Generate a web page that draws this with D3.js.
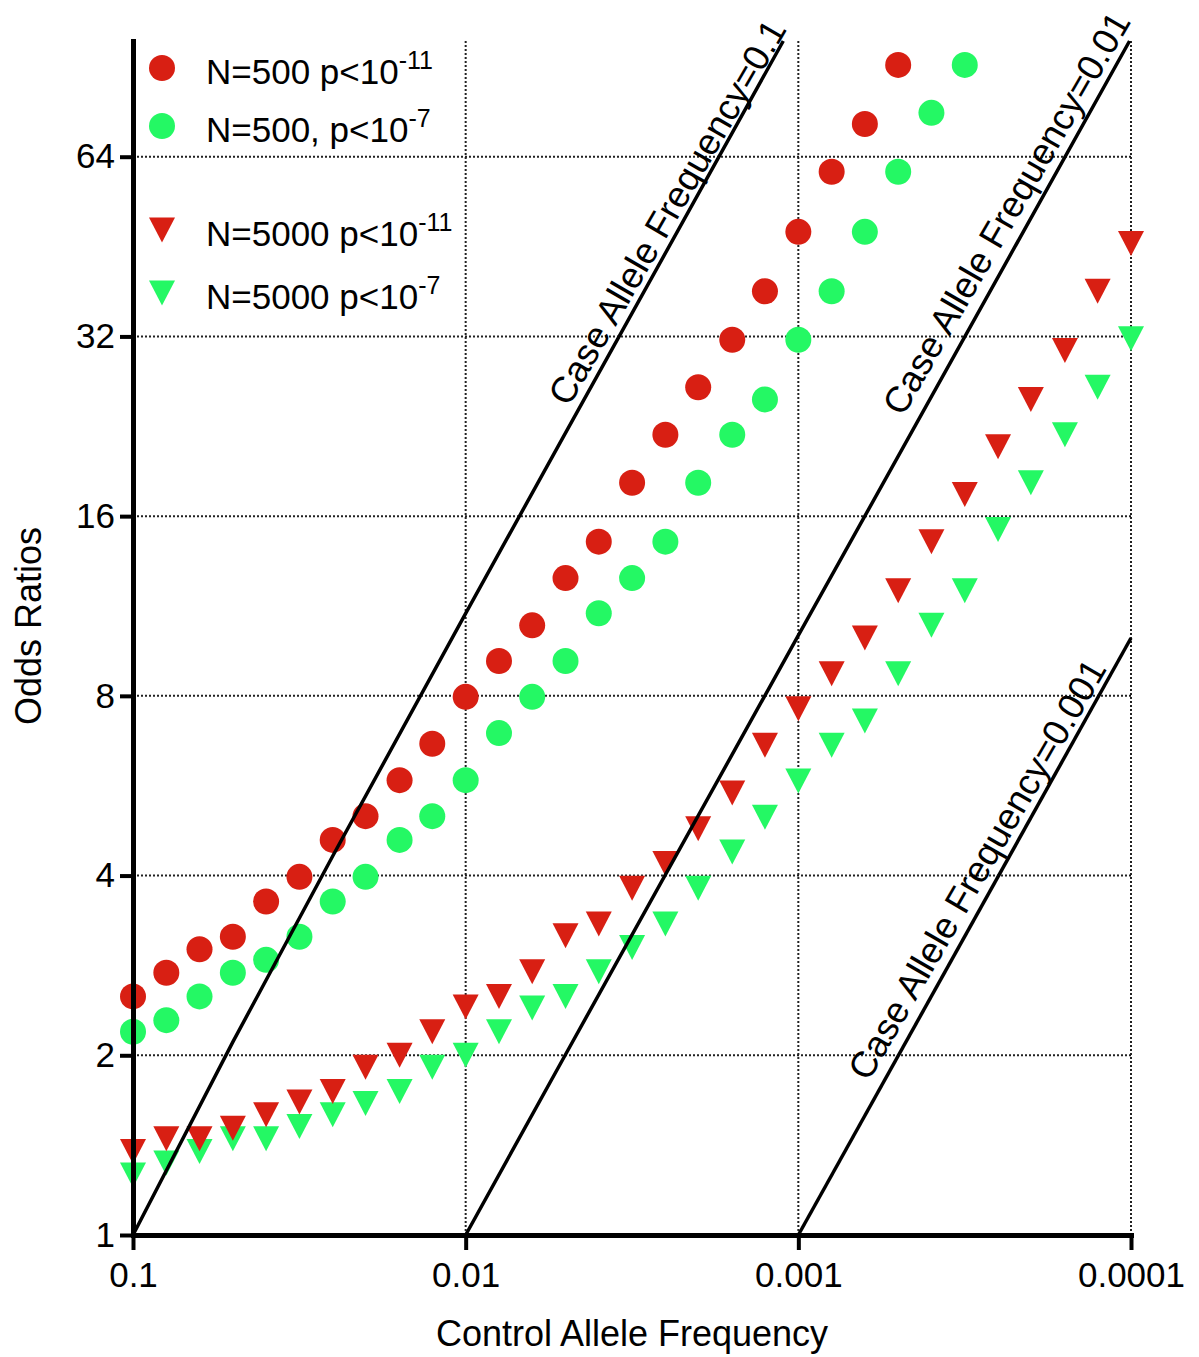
<!DOCTYPE html>
<html>
<head>
<meta charset="utf-8">
<script src="https://cdn.jsdelivr.net/npm/d3@7"></script>
<style>
  body { margin: 0; background: #fff; }
  svg text { font-family: "Liberation Sans", Arial, Helvetica, sans-serif; fill: #000; }
</style>
</head>
<body>
<div class="chart"></div>
<script>
// control allele frequencies, 0.1 down to 0.0001 in tenth-decade steps
const ctrlFreq = [0.1, 0.0794, 0.0631, 0.0501, 0.0398, 0.0316, 0.0251, 0.0200, 0.0158, 0.0126,
  0.01, 0.00794, 0.00631, 0.00501, 0.00398, 0.00316, 0.00251, 0.00200, 0.00158, 0.00126,
  0.001, 0.000794, 0.000631, 0.000501, 0.000398, 0.000316, 0.000251, 0.000200, 0.000158, 0.000126,
  0.0001];

// odds ratios, one per control frequency (circles stop early)
const orN500p11 = [2.51, 2.75, 3.01, 3.16, 3.62, 3.98, 4.59, 5.03, 5.78, 6.65,
  7.97, 9.15, 10.5, 12.6, 14.5, 18.2, 21.9, 26.3, 31.6, 38.1,
  47.9, 60.4, 72.6, 91.2];
const orN500p7 = [2.19, 2.29, 2.51, 2.75, 2.89, 3.16, 3.62, 3.98, 4.59, 5.03,
  5.78, 6.93, 7.97, 9.15, 11.0, 12.6, 14.5, 18.2, 21.9, 25.1,
  31.6, 38.1, 47.9, 60.4, 75.8, 91.2];
const orN5000p11 = [1.38, 1.45, 1.45, 1.51, 1.59, 1.67, 1.74, 1.91, 2.00, 2.19,
  2.41, 2.51, 2.76, 3.17, 3.32, 3.81, 4.19, 4.79, 5.50, 6.61,
  7.61, 8.71, 10.0, 12.0, 14.5, 17.4, 20.9, 25.1, 30.3, 38.1,
  45.8];
const orN5000p7 = [1.26, 1.32, 1.38, 1.45, 1.45, 1.52, 1.59, 1.66, 1.74, 1.91,
  2.00, 2.19, 2.40, 2.51, 2.76, 3.03, 3.32, 3.81, 4.38, 5.01,
  5.76, 6.61, 7.26, 8.71, 10.5, 12.0, 15.2, 18.2, 21.9, 26.3,
  31.7];

const seriesNames = ["N=500 p<10", "N=500, p<10", "N=5000 p<10", "N=5000 p<10"];
const seriesExp = ["-11", "-7", "-11", "-7"];

const yTicks = [1, 2, 4, 8, 16, 32, 64];
const xTicks = [0.1, 0.01, 0.001, 0.0001];
const xTickLabels = ["0.1", "0.01", "0.001", "0.0001"];

// case allele frequency reference curves
const caseFreqs = ["0.1", "0.01", "0.001"];
const caseLineCtrl = [[0.1, 0.05, 0.025, 0.01, 0.005, 0.00111], [0.01, 0.005, 0.001, 0.000101], [0.001, 0.0001]];
const caseLineOR = [[1, 2.11, 4.33, 11.0, 22.1, 100], [1, 2.01, 10.1, 100], [1, 10.0]];
const caseLabelCtrl = [0.00490, 0.000485, 0.000615];
const caseLabelOR = [24.3, 23.4, 1.80];

const red = "#d81f13";
const green = "#24f864";

const width = 1199, height = 1357;
const margin = { top: 41, right: 68, bottom: 122, left: 133 };

const svg = d3.select("div.chart").append("svg")
    .attr("width", width)
    .attr("height", height);

const x = d3.scaleLog().domain([0.1, 0.0001]).range([margin.left, width - margin.right]);
const y = d3.scaleLog().base(2).domain([1, 100]).range([height - margin.bottom, margin.top]);

// dotted grid
const grid = svg.append("g")
    .attr("stroke", "#222")
    .attr("stroke-width", 2)
    .attr("stroke-dasharray", "2,2");

grid.selectAll("line.hgrid")
    .data(yTicks.slice(1))
    .join("line")
    .attr("class", "hgrid")
    .attr("x1", x(0.1))
    .attr("x2", x(0.0001))
    .attr("y1", d => y(d))
    .attr("y2", d => y(d));

grid.selectAll("line.vgrid")
    .data(xTicks.slice(1))
    .join("line")
    .attr("class", "vgrid")
    .attr("x1", d => x(d))
    .attr("x2", d => x(d))
    .attr("y1", y(100))
    .attr("y2", y(1));

// markers
const triangle = "M-13,-12.5L13,-12.5L0,12.5Z";

function drawCircles(values, color) {
  svg.append("g").selectAll("circle")
    .data(values)
    .join("circle")
    .attr("cx", (d, i) => x(ctrlFreq[i]))
    .attr("cy", d => y(d))
    .attr("r", 13)
    .attr("fill", color);
}

function drawTriangles(values, color) {
  svg.append("g").selectAll("path")
    .data(values)
    .join("path")
    .attr("d", triangle)
    .attr("transform", (d, i) => `translate(${x(ctrlFreq[i])},${y(d)})`)
    .attr("fill", color);
}

drawCircles(orN500p7, green);
drawCircles(orN500p11, red);
drawTriangles(orN5000p7, green);
drawTriangles(orN5000p11, red);

// case allele frequency lines and their labels
const line = d3.line()
    .x(d => x(d[0]))
    .y(d => y(d[1]));

caseFreqs.forEach((f, i) => {
  let pts = caseLineCtrl[i].map((c, j) => [c, caseLineOR[i][j]]);
  svg.append("path")
    .attr("d", line(pts))
    .attr("fill", "none")
    .attr("stroke", "#000")
    .attr("stroke-width", 3.5);

  svg.append("text")
    .attr("transform", `translate(${x(caseLabelCtrl[i])},${y(caseLabelOR[i])}) rotate(-60)`)
    .attr("font-size", 36.5)
    .text(`Case Allele Frequency=${f}`);
});

// axes
const xAxis = d3.axisBottom(x)
    .tickValues(xTicks)
    .tickFormat((d, i) => xTickLabels[i])
    .tickSize(15)
    .tickPadding(12)
    .tickSizeOuter(0);

const yAxis = d3.axisLeft(y)
    .tickValues(yTicks)
    .tickFormat(d => d)
    .tickSize(13)
    .tickPadding(5)
    .tickSizeOuter(0);

function styleAxis(g) {
  g.select(".domain").attr("stroke", "#000").attr("stroke-width", 5).attr("stroke-linecap", "square");
  g.selectAll(".tick line").attr("stroke", "#000").attr("stroke-width", 4);
  g.selectAll(".tick text").attr("font-size", 35).attr("fill", "#000");
  g.attr("font-family", null);
}

svg.append("g")
    .attr("transform", `translate(0,${y(1)})`)
    .call(xAxis)
    .call(styleAxis);

svg.append("g")
    .attr("transform", `translate(${x(0.1)},0)`)
    .call(yAxis)
    .call(styleAxis);

// axis titles
svg.append("text")
    .attr("x", (x(0.1) + x(0.0001)) / 2)
    .attr("y", 1346)
    .attr("text-anchor", "middle")
    .attr("font-size", 36)
    .text("Control Allele Frequency");

svg.append("text")
    .attr("transform", "translate(41,626) rotate(-90)")
    .attr("text-anchor", "middle")
    .attr("font-size", 36)
    .text("Odds Ratios");

// legend
const legendY = [68, 126, 230, 293];
const legend = svg.append("g");

legendY.forEach((ly, i) => {
  let color = i % 2 === 0 ? red : green;
  if (i < 2) {
    legend.append("circle").attr("cx", 162).attr("cy", ly).attr("r", 13).attr("fill", color);
  } else {
    legend.append("path").attr("d", triangle).attr("transform", `translate(162,${ly})`).attr("fill", color);
  }
  let t = legend.append("text")
      .attr("x", 206)
      .attr("y", ly + 16)
      .attr("font-size", 35);
  t.append("tspan").text(seriesNames[i]);
  t.append("tspan")
      .attr("font-size", 25)
      .attr("dy", -15)
      .text(seriesExp[i]);
});
</script>
</body>
</html>
